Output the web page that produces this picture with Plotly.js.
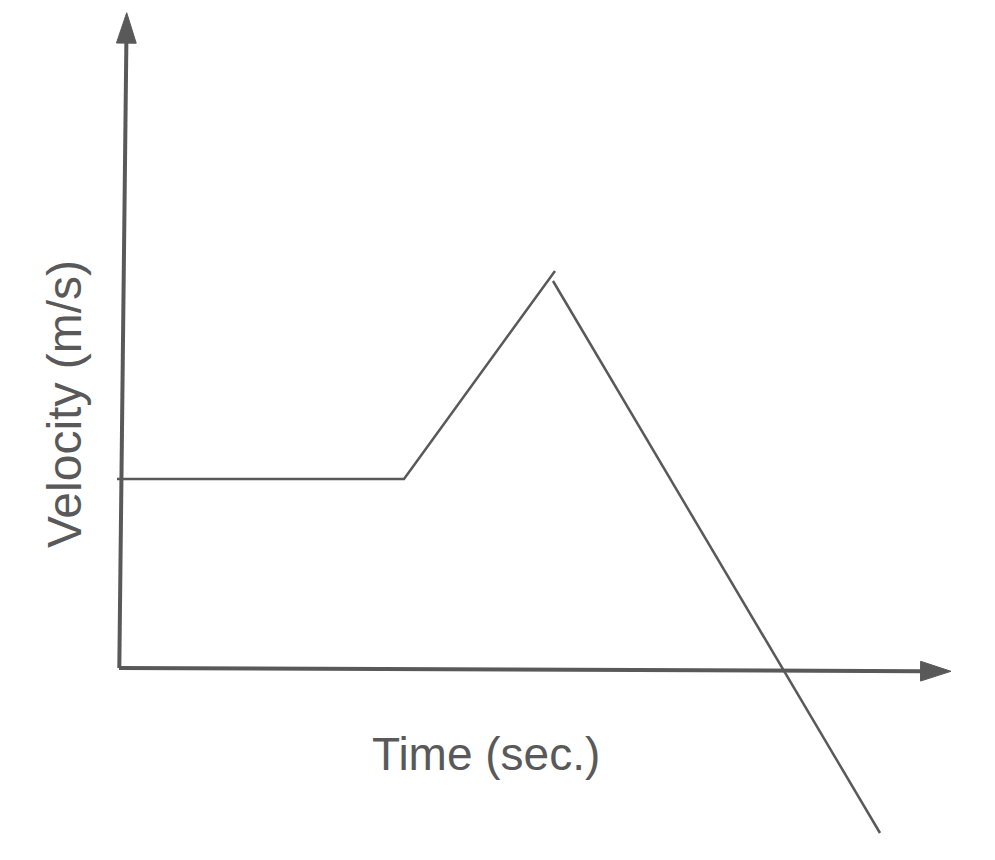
<!DOCTYPE html>
<html>
<head>
<meta charset="utf-8">
<script src="https://cdn.plot.ly/plotly-3.0.1.min.js"></script>
<style>
  html, body { margin: 0; padding: 0; background: #fff; }
  #chart { width: 995px; height: 860px; }
</style>
</head>
<body>
<div id="chart"></div>
<script>
// velocity-time sketch, units are arbitrary (origin at the axes corner)
var motionTime = [-2, 285, 436, null, 434, 761];
var motionVelocity = [189, 189, 397, null, 387, -165];

// the two hand-drawn axes, each ending in an arrow head
var timeAxisX = [0, 832];
var timeAxisY = [0, -3.3];
var velAxisX = [0.3, 7.7];
var velAxisY = [0, 655.3];

var xLabel = 'Time (sec.)';
var yLabel = 'Velocity (m/s)';

var ink = '#595959';

function axisTrace(xs, ys) {
    return {
        x: xs,
        y: ys,
        mode: 'lines+markers',
        line: {color: ink, width: 4},
        marker: {
            symbol: ['circle', 'arrow'],
            size: [0, 32],
            color: ink,
            opacity: 1,
            line: {color: ink, width: 1},
            angleref: 'previous'
        },
        hoverinfo: 'skip',
        showlegend: false
    };
}

var data = [
    axisTrace(timeAxisX, timeAxisY),
    axisTrace(velAxisX, velAxisY),
    {
        x: motionTime,
        y: motionVelocity,
        mode: 'lines',
        line: {color: ink, width: 2.5},
        connectgaps: false,
        hoverinfo: 'skip',
        showlegend: false
    }
];

var layout = {
    width: 995,
    height: 860,
    margin: {l: 0, r: 0, t: 0, b: 0},
    paper_bgcolor: '#fff',
    plot_bgcolor: '#fff',
    xaxis: {range: [-119, 876], visible: false, fixedrange: true},
    yaxis: {range: [-192, 668], visible: false, fixedrange: true},
    font: {family: '"Liberation Sans", Arial, sans-serif', color: ink},
    annotations: [
        {
            x: 367, y: -86, xref: 'x', yref: 'y',
            text: xLabel, showarrow: false,
            xanchor: 'center', yanchor: 'middle',
            font: {size: 46, color: ink}
        },
        {
            x: -55, y: 264, xref: 'x', yref: 'y',
            text: yLabel, showarrow: false, textangle: -90,
            xanchor: 'center', yanchor: 'middle',
            font: {size: 48, color: ink}
        }
    ]
};

Plotly.newPlot('chart', data, layout, {displayModeBar: false, staticPlot: true});
</script>
</body>
</html>
